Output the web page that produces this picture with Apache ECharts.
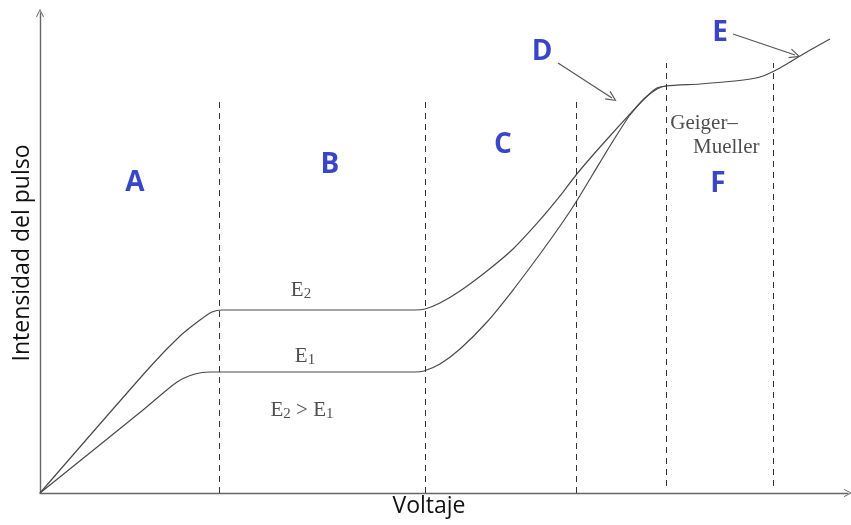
<!DOCTYPE html>
<html>
<head>
<meta charset="utf-8">
<script src="https://cdn.jsdelivr.net/npm/echarts@6/dist/echarts.min.js"></script>
<style>
  html, body { margin: 0; padding: 0; background: #fff; }
  #chart { width: 851px; height: 525px; }
</style>
</head>
<body>
<div id="chart"></div>
<script>
// Pulse height vs. applied voltage for two particle energies (E2 > E1).
// Both axes are in relative units (0-100).

// Upper curve, energy E2: [voltage, pulse height]
const curveE2 = [
  [0, 0], [13.61, 26.25], [17.33, 32.71], [19.8, 36.04],
  [21.29, 37.71], [22.52, 38.13], [34.65, 38.13], [46.41, 38.13], [47.65, 38.33],
  [49.5, 39.58], [51.98, 42.08], [55.32, 46.25], [58.54, 50.83], [61.88, 56.88],
  [64.36, 61.88], [66.34, 66.25], [68.44, 70.42], [70.54, 74.38], [73.02, 78.96],
  [74.88, 82.29], [76.36, 84.17], [77.48, 84.79], [81.68, 85.21], [86.01, 85.83],
  [89.11, 86.67], [91.58, 88.54], [94.68, 91.67], [97.77, 94.58]
];

// Lower curve, energy E1: merges with E2 at the Geiger-Mueller plateau
const curveE1 = [
  [0, 0], [12.75, 17.29], [16.96, 23.13], [19.18, 24.79],
  [21.04, 25.21], [22.52, 25.21], [34.65, 25.21], [46.41, 25.21], [47.52, 25.42],
  [49.5, 26.88], [51.98, 30.0], [55.32, 35.63], [58.54, 42.29], [61.88, 49.79],
  [64.36, 55.63], [66.34, 60.63], [68.44, 66.46], [70.92, 73.33], [73.02, 78.75],
  [74.88, 82.29], [76.36, 84.38], [77.48, 84.79]
];

// Region boundaries (voltage), with the vertical span of each dashed divider
const boundaryX = [22.15, 47.65, 66.34, 77.48, 90.72];
const boundaryBottom = [0, 0, 0, 1.46, 1.46];
const boundaryTop = [82.29, 82.29, 82.29, 89.58, 89.58];

// Region letters and where they sit
const regionNames = ['A', 'B', 'C', 'D', 'E', 'F'];
const regionX = [11.76, 35.89, 57.3, 62.13, 84.16, 83.91];
const regionY = [64.58, 68.33, 72.5, 91.88, 95.83, 64.38];

// Pointer arrows from the D and E letters to the curve: [from, to]
const pointerFrom = [[64.11, 89.58], [85.77, 95.63]];
const pointerTo = [[70.79, 82.29], [93.44, 91.25]];

// Serif annotations
const noteTexts = ['{e|E}{s|2}', '{e|E}{s|1}', '{e|E}{s|2}{e| > E}{s|1}', '{e|Geiger–}', '{e|Mueller}'];
const noteX = [32.3, 32.8, 32.43, 78.0, 80.82];
const noteY = [42.29, 28.54, 17.29, 77.08, 71.88];
const noteAlign = ['center', 'center', 'center', 'left', 'left'];

const lineColor = '#4a4a4a';
const blue = '#0616b8';
const serif = '"Liberation Serif", "DejaVu Serif", serif';
const sans = '"Open Sans", "Noto Sans", sans-serif';
const chevronPath = 'path://M0,10 L5,0 L10,10 L9,10.6 L5,2.4 L1,10.6 Z';

const dividerLines = boundaryX.map((x, i) => [
  { coord: [x, boundaryBottom[i]] },
  { coord: [x, boundaryTop[i]] }
]);
const pointerLines = pointerFrom.map((p, i) => [
  { coord: p },
  { coord: pointerTo[i] }
]);

const chart = echarts.init(document.getElementById('chart'));
chart.setOption({
  animation: false,
  grid: { left: 40, right: 3, top: 13, bottom: 32, containLabel: false },
  xAxis: {
    type: 'value', min: 0, max: 100,
    name: 'Voltaje', nameLocation: 'middle', nameGap: 2,
    nameTextStyle: { fontFamily: sans, fontSize: 23, color: '#111', padding: [0, 30, 0, 0] },
    axisLine: { lineStyle: { color: '#666', width: 1.4 }, symbol: ['none', chevronPath], symbolSize: [8, 9] },
    axisTick: { show: false }, axisLabel: { show: false }, splitLine: { show: false }
  },
  yAxis: {
    type: 'value', min: 0, max: 100,
    name: 'Intensidad del pulso', nameLocation: 'middle', nameGap: 6,
    nameTextStyle: { fontFamily: sans, fontSize: 23, color: '#111' },
    axisLine: { lineStyle: { color: '#666', width: 1.4 }, symbol: ['none', chevronPath], symbolSize: [8, 9] },
    axisTick: { show: false }, axisLabel: { show: false }, splitLine: { show: false }
  },
  series: [
    {
      name: 'E2', type: 'line', data: curveE2, smooth: 0.25, showSymbol: false,
      lineStyle: { color: lineColor, width: 1.2 }, z: 3
    },
    {
      name: 'E1', type: 'line', data: curveE1, smooth: 0.25, showSymbol: false,
      lineStyle: { color: lineColor, width: 1.2 }, z: 3
    },
    {
      // dashed dividers and pointer arrows
      type: 'line', data: [], silent: true,
      markLine: {
        silent: true, animation: false,
        label: { show: false },
        data: [
          ...dividerLines.map(d => [
            Object.assign({ symbol: 'none', lineStyle: { type: [6, 5], color: '#333', width: 1 } }, d[0]),
            Object.assign({ symbol: 'none' }, d[1])
          ]),
          ...pointerLines.map(d => [
            Object.assign({ symbol: 'none', lineStyle: { type: 'solid', color: '#555', width: 1.2 } }, d[0]),
            Object.assign({ symbol: 'path://M0,12 L5,0 L10,12 L9,12.6 L5,2.8 L1,12.6 Z', symbolSize: [10, 11] }, d[1])
          ])
        ]
      }
    },
    {
      // region letters
      type: 'scatter', symbolSize: 0, silent: true,
      data: regionNames.map((n, i) => ({ value: [regionX[i], regionY[i]], name: n })),
      label: {
        show: true, position: 'inside', formatter: p => p.name,
        fontFamily: sans, fontWeight: 'bold', fontSize: 28, color: blue
      }
    },
    {
      // serif annotations
      type: 'scatter', symbolSize: 0, silent: true,
      data: noteTexts.map((t, i) => ({
        value: [noteX[i], noteY[i]], name: t,
        label: { align: noteAlign[i] }
      })),
      label: {
        show: true, position: 'inside', formatter: p => p.name,
        rich: {
          e: { fontFamily: serif, fontSize: 21, color: '#222' },
          s: { fontFamily: serif, fontSize: 15, color: '#222', padding: [8, 0, 0, 0] }
        }
      }
    }
  ]
});
</script>
</body>
</html>
